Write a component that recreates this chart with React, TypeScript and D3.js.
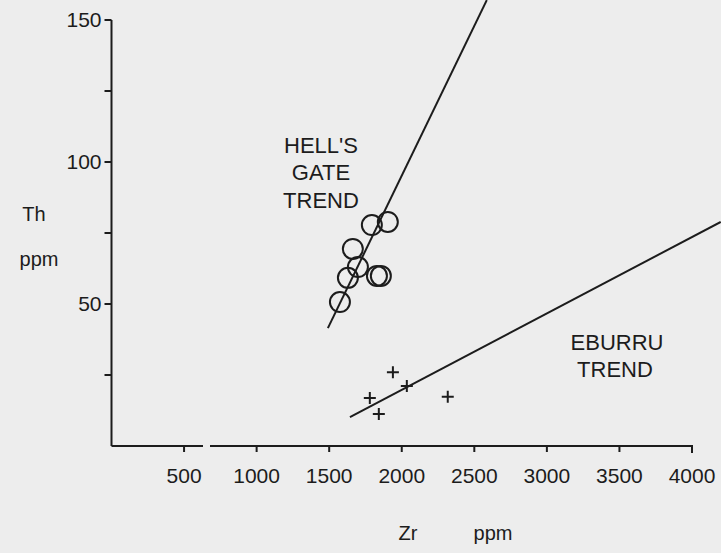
import React from 'react';
import * as d3 from 'd3';

// Th vs Zr (ppm) - Hell's Gate and Eburru obsidian samples
const hellsGate = [
  { zr: 1904, th: 78.9 },
  { zr: 1794, th: 77.8 },
  { zr: 1663, th: 69.4 },
  { zr: 1698, th: 63 },
  { zr: 1829, th: 59.9 },
  { zr: 1856, th: 59.9 },
  { zr: 1629, th: 59.2 },
  { zr: 1574, th: 50.7 },
];

const eburru = [
  { zr: 1939, th: 26 },
  { zr: 2035, th: 21.1 },
  { zr: 1780, th: 16.9 },
  { zr: 1842, th: 11.3 },
  { zr: 2317, th: 17.3 },
];

const hellsGateTrend = [
  { zr: 1491, th: 41.5 },
  { zr: 2586, th: 157 },
];

const eburruTrend = [
  { zr: 1643, th: 10.2 },
  { zr: 4198, th: 78.9 },
];

const xTicks = [500, 1000, 1500, 2000, 2500, 3000, 3500, 4000];
const yTicks = [25, 50, 75, 100, 125, 150];
const yLabels = [50, 100, 150];

const W = 721;
const H = 553;
const ink = '#1c1c1c';
const font = '"Liberation Sans", Arial, sans-serif';

export default function App() {
  const x = d3.scaleLinear().domain([0, 4000]).range([111.5, 692]);
  const y = d3.scaleLinear().domain([0, 150]).range([446, 20]);

  const line = d3
    .line<{ zr: number; th: number }>()
    .x((d) => x(d.zr))
    .y((d) => y(d.th));

  const x0 = x(0);
  const y0 = y(0);
  const gapStart = 203;
  const gapEnd = 210;

  return (
    <>
      <style>{`body{margin:0;background:#ededed}`}</style>
      <svg width={W} height={H} style={{ display: 'block', background: '#ededed' }}>
        {/* y axis */}
        <line x1={x0} y1={y(150)} x2={x0} y2={y0} stroke={ink} strokeWidth={2} />
        {yTicks.map((t) => (
          <line key={t} x1={x0 - 7} x2={x0} y1={y(t)} y2={y(t)} stroke={ink} strokeWidth={2} />
        ))}
        {yLabels.map((t) => (
          <text key={t} x={x0 - 10} y={y(t)} dy="0.35em" textAnchor="end"
            fontFamily={font} fontSize={21} fill={ink}>{t}</text>
        ))}

        {/* x axis, with the break between 500 and 1000 */}
        <path d={`M${x0},${y0}H${gapStart}M${gapEnd},${y0}H${x(4000)}v7`}
          fill="none" stroke={ink} strokeWidth={2} />
        {xTicks.slice(0, -1).map((t) => (
          <line key={t} x1={x(t)} x2={x(t)} y1={y0} y2={y0 + 6} stroke={ink} strokeWidth={2} />
        ))}
        {xTicks.map((t) => (
          <text key={t} x={x(t)} y={483} textAnchor="middle"
            fontFamily={font} fontSize={21} fill={ink}>{t}</text>
        ))}

        {/* axis titles */}
        <text x={34} y={221} textAnchor="middle" fontFamily={font} fontSize={20} fill={ink}>Th</text>
        <text x={39} y={266} textAnchor="middle" fontFamily={font} fontSize={20} fill={ink}>ppm</text>
        <text x={408} y={540} textAnchor="middle" fontFamily={font} fontSize={20} fill={ink}>Zr</text>
        <text x={493} y={540} textAnchor="middle" fontFamily={font} fontSize={20} fill={ink}>ppm</text>

        {/* trend lines */}
        <path d={line(hellsGateTrend) ?? ''} fill="none" stroke={ink} strokeWidth={2} />
        <path d={line(eburruTrend) ?? ''} fill="none" stroke={ink} strokeWidth={2} />

        {/* Hell's Gate samples */}
        {hellsGate.map((d, i) => (
          <circle key={i} cx={x(d.zr)} cy={y(d.th)} r={10} fill="none" stroke={ink} strokeWidth={2} />
        ))}

        {/* Eburru samples */}
        {eburru.map((d, i) => (
          <path key={i} d={`M${x(d.zr) - 6},${y(d.th)}h12M${x(d.zr)},${y(d.th) - 6}v12`}
            stroke={ink} strokeWidth={2} />
        ))}

        {/* trend labels */}
        <g fontFamily={font} fontSize={22} fill={ink} textAnchor="middle">
          <text x={321} y={153}>HELL'S</text>
          <text x={321} y={180}>GATE</text>
          <text x={321} y={208}>TREND</text>
          <text x={617} y={350}>EBURRU</text>
          <text x={615} y={377}>TREND</text>
        </g>
      </svg>
    </>
  );
}
